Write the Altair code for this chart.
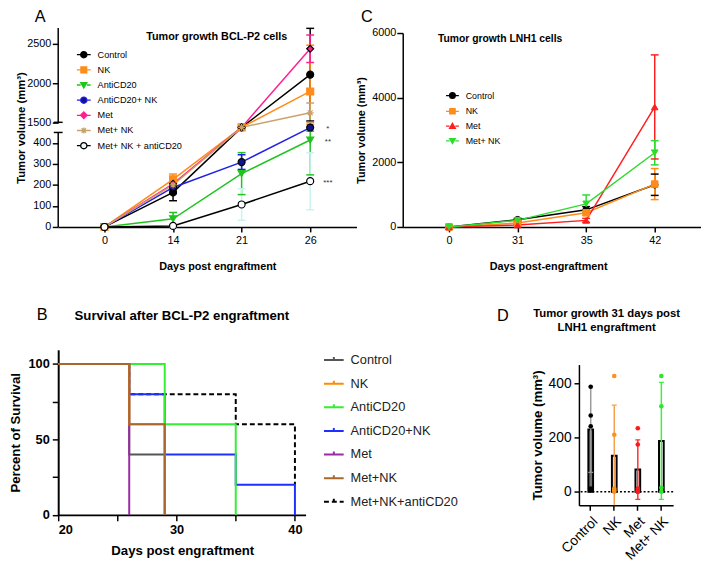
import altair as alt
import pandas as pd

FONT = "Liberation Sans"

# ---------------- Panel A : Tumor growth BCL-P2 cells ----------------
A_days = ["0", "14", "21", "26"]
A_series = ["Control", "NK", "AntiCD20", "AntiCD20+ NK", "Met", "Met+ NK", "Met+ NK + antiCD20"]
A_control = [0, 165, 975, 2107]
A_nk = [0, 227, 975, 1893]
A_anti = [0, 39, 254, 414]
A_anti_nk = [0, 188, 309, 960]
A_met = [0, 205, 975, 2437]
A_met_nk = [0, 200, 975, 1621]
A_met_nk_anti = [0, 5, 107, 218]
A_control_err = [0, 40, 0, 590]
A_nk_err = [0, 25, 0, 590]
A_anti_err = [0, 30, 100, 166]
A_anti_nk_err = [0, 30, 35, 0]
A_met_err = [0, 30, 0, 175]
A_met_nk_err = [0, 25, 0, 125]
A_met_nk_anti_err = [0, 5, 75, 136]
A_y_ticks = [0, 100, 200, 300, 400, 1500, 2000, 2500]
A_break_lo, A_break_hi, A_top = 450, 1500, 2700
A_star_labels = ["*", "**", "***"]
A_star_series = ["AntiCD20+ NK", "AntiCD20", "Met+ NK + antiCD20"]

# ---------------- Panel C : Tumor growth LNH1 cells ----------------
C_days = ["0", "31", "35", "42"]
C_series = ["Control", "NK", "Met", "Met+ NK"]
C_control = [0, 224, 530, 1306]
C_nk = [0, 122, 439, 1327]
C_met = [0, 61, 204, 3714]
C_met_nk = [0, 204, 714, 2296]
C_control_err = [0, 40, 100, 330]
C_nk_err = [0, 30, 80, 480]
C_met_err = [0, 20, 60, 1610]
C_met_nk_err = [0, 40, 276, 375]
C_y_ticks = [0, 2000, 4000, 6000]

# ---------------- Panel B : survival ----------------
B_series = ["Control", "NK", "AntiCD20", "AntiCD20+NK", "Met", "Met+NK", "Met+NK+antiCD20"]
B_control_t, B_control_s = [20, 26, 29], [100, 40, 0]
B_nk_t, B_nk_s = [20, 26, 29], [100, 60, 0]
B_anti_t, B_anti_s = [20, 29, 35], [100, 60, 0]
B_anti_nk_t, B_anti_nk_s = [20, 26, 29, 35, 40], [100, 80, 40, 20, 0]
B_met_t, B_met_s = [20, 26], [100, 0]
B_met_nk_t, B_met_nk_s = [20, 26, 29], [100, 60, 0]
B_met_nk_anti_t, B_met_nk_anti_s = [20, 26, 35, 40], [100, 80, 60, 20]
B_draw_order = ["Met+NK+antiCD20", "AntiCD20+NK", "AntiCD20", "Control", "Met", "NK", "Met+NK"]
B_x_ticks = [20, 25, 30, 35, 40]
B_y_ticks = [0, 25, 50, 75, 100]

# ---------------- Panel D : 31 days LNH1 ----------------
D_groups = ["Control", "NK", "Met", "Met+ NK"]
D_mean = [230, 133, 82, 188]
D_sd = [158, 187, 110, 216]
D_control_pts = [388, 282, 242, 12, 6]
D_nk_pts = [428, 211, 12, 6, 0]
D_met_pts = [235, 175, 12, 6, 0, 0]
D_met_nk_pts = [428, 316, 15, 0]
D_y_ticks = [0, 100, 200, 300, 400]

# ---------------- styles ----------------
A_line_colors = ["#000000", "#ff8c1a", "#1fc41f", "#1f1fe6", "#ff1f8f", "#c9a26b", "#000000"]
A_fill = ["#000000", "#ff8c1a", "#1fc41f", "#12128c", "#ff1f8f", "#c9a26b", "#ffffff"]
A_stroke = ["#000000", "#ff8c1a", "#1fc41f", "#000000", "#000000", "#c9a26b", "#000000"]
A_leg_fill = ["#000000", "#ff8c1a", "#1fc41f", "#12128c", "#ff1f8f", "#c9a26b", "#eefafa"]
A_err_colors = ["#000000", "#ff8c1a", "#1fc41f", "#1f1fe6", "#ff1f8f", "#c9a26b", "#c9f2f2"]
AST = "M-1,0L1,0M0,-1L0,1M-0.7,-0.7L0.7,0.7M-0.7,0.7L0.7,-0.7"
A_shapes = ["circle", "square", "triangle-down", "circle", "diamond", AST, "circle"]
LEG_CIRCLE = "M-1,0L-0.45,0M0.45,0L1,0M-0.45,0A0.45,0.45,0,1,0,0.45,0A0.45,0.45,0,1,0,-0.45,0Z"
LEG_SQUARE = "M-1,0L-0.42,0M0.42,0L1,0M-0.42,-0.42L0.42,-0.42L0.42,0.42L-0.42,0.42Z"
LEG_TRI_DOWN = "M-1,0L-0.45,0M0.45,0L1,0M-0.45,-0.35L0.45,-0.35L0,0.42Z"
LEG_TRI_UP = "M-1,0L-0.45,0M0.45,0L1,0M-0.45,0.35L0.45,0.35L0,-0.42Z"
LEG_DIAMOND = "M-1,0L-0.48,0M0.48,0L1,0M0,-0.48L0.48,0L0,0.48L-0.48,0Z"
LEG_AST = "M-1,0L1,0M0,-0.45L0,0.45M-0.32,-0.32L0.32,0.32M-0.32,0.32L0.32,-0.32"
A_leg_paths = [LEG_CIRCLE, LEG_SQUARE, LEG_TRI_DOWN, LEG_CIRCLE, LEG_DIAMOND, LEG_AST, LEG_CIRCLE]

C_colors = ["#000000", "#ff8c1a", "#ff1f1f", "#2edc2e"]
C_shapes = ["circle", "square", "triangle-up", "triangle-down"]
C_leg_paths = [LEG_CIRCLE, LEG_SQUARE, LEG_TRI_UP, LEG_TRI_DOWN]

B_colors = ["#555555", "#ff8c00", "#33ee33", "#1f2fff", "#9b2aa6", "#a8682c", "#000000"]
B_dash = [[1, 0], [1, 0], [1, 0], [1, 0], [1, 0], [1, 0], [5, 3]]
B_SYMBOL = "M-1,0L1,0M0,0L0,-0.3"

D_bar_fill = ["#6e6e6e", "#ffffff", "#ffffff", "#ffffff"]
D_err_colors = ["#9a9a9a", "#f6a04d", "#ff3030", "#3cf03c"]
D_pt_colors = ["#000000", "#f7931e", "#ff1a1a", "#2ee62e"]

RES = dict(color="independent", fill="independent", stroke="independent",
           shape="independent", strokeDash="independent")


def long_df(series, days, means, errs):
    rows = []
    for s, m, e in zip(series, means, errs):
        for d, v, er in zip(days, m, e):
            rows.append({"series": s, "day": d, "mean": v, "err": er, "lo": v - er, "hi": v + er})
    return pd.DataFrame(rows)


def letter(label, dx, dy):
    return alt.Chart(pd.DataFrame({"t": [label]})).mark_text(
        fontSize=16.5, font=FONT, color="black", align="center", baseline="middle"
    ).encode(text="t:N", x=alt.value(dx), y=alt.value(dy))


def spacer(w, h):
    return alt.Chart(pd.DataFrame({"v": [0]})).mark_point(opacity=0).encode(
        x=alt.value(0), y=alt.value(0)).properties(width=w, height=h)


# ================= Panel A =================
A_W, A_H = 303, 202
dfA = long_df(A_series, A_days,
              [A_control, A_nk, A_anti, A_anti_nk, A_met, A_met_nk, A_met_nk_anti],
              [A_control_err, A_nk_err, A_anti_err, A_anti_nk_err, A_met_err, A_met_nk_err, A_met_nk_anti_err])
dfA_err = dfA[(dfA["err"] > 0)]
xA = alt.X("day:O", sort=A_days,
           scale=alt.Scale(type="point", domain=A_days, padding=0.675),
           axis=alt.Axis(title="Days post engraftment", titleX=161.7, titleY=40, titleBaseline="middle",
                         titleFontSize=11, titleFontWeight="bold", labelFontSize=11, labelAngle=0,
                         tickSize=5, labelPadding=3, domainWidth=1.5, tickWidth=1.5))
yA_scale = alt.Scale(domain=[0, A_break_lo, A_break_hi, A_top], range=[A_H, 106, 95.7, 0],
                     nice=False, zero=False)


def yA(field):
    return alt.Y(field + ":Q", scale=yA_scale,
                 axis=alt.Axis(title="Tumor volume (mm³)", values=A_y_ticks, domain=False, format="d",
                               tickSize=6, tickWidth=1.5, labelPadding=1.5, labelFontSize=11,
                               titleFontSize=11.5, titleFontWeight="bold", titleX=-37,
                               titleBaseline="middle"))


seg = pd.DataFrame({"lo": [0, A_break_hi], "hi": [A_break_lo, A_top]})
A_axis_line = alt.Chart(seg).mark_rule(color="black", strokeWidth=1.5).encode(
    x=alt.value(0), y=yA("lo"), y2="hi:Q")
A_caps = alt.Chart(pd.DataFrame({"v": [A_break_lo, A_break_hi]})).mark_rule(
    color="black", strokeWidth=1.5).encode(x=alt.value(-4.5), x2=alt.value(4.5), y=yA("v"))
A_errbar = alt.Chart(dfA_err).mark_rule(strokeWidth=1.5).encode(
    x=xA, y=yA("lo"), y2="hi:Q",
    color=alt.Color("series:N", scale=alt.Scale(domain=A_series, range=A_err_colors), legend=None))
A_errcap = alt.Chart(dfA_err).transform_fold(["lo", "hi"], as_=["k", "v"]).mark_tick(
    size=8, thickness=1.5, opacity=1).encode(
    x=xA, y=yA("v"),
    color=alt.Color("series:N", scale=alt.Scale(domain=A_series, range=A_err_colors), legend=None))
A_lines = alt.Chart(dfA).mark_line(strokeWidth=1.5).encode(
    x=xA, y=yA("mean"),
    color=alt.Color("series:N", scale=alt.Scale(domain=A_series, range=A_line_colors), legend=None))
A_points = alt.Chart(dfA).mark_point(filled=True, opacity=1, size=50, strokeWidth=1.2).encode(
    x=xA, y=yA("mean"),
    shape=alt.Shape("series:N", scale=alt.Scale(domain=A_series, range=A_shapes), legend=None),
    fill=alt.Fill("series:N", scale=alt.Scale(domain=A_series, range=A_fill), legend=None),
    stroke=alt.Stroke("series:N", scale=alt.Scale(domain=A_series, range=A_stroke), legend=None))
dfStars = dfA[(dfA["day"] == A_days[-1]) & (dfA["series"].isin(A_star_series))].copy()
dfStars["star"] = dfStars["series"].map(dict(zip(A_star_series, A_star_labels)))
A_stars = alt.Chart(dfStars).mark_text(fontSize=8, font=FONT, color="#333333", dx=18, dy=2,
                                       align="center", baseline="middle").encode(
    x=xA, y=yA("mean"), text="star:N")
legA = alt.Legend(title=None, orient="none", legendX=18, legendY=19, symbolSize=196,
                  symbolStrokeWidth=1.3, labelFontSize=9.3, labelFont=FONT, labelColor="black",
                  rowPadding=1.4, labelOffset=6, padding=0)
A_legend = alt.Chart(dfA).transform_filter("false").mark_point(
    filled=True, opacity=1, strokeWidth=1.3).encode(
    x=xA, y=yA("mean"),
    shape=alt.Shape("series:N", scale=alt.Scale(domain=A_series, range=A_leg_paths), legend=legA),
    fill=alt.Fill("series:N", scale=alt.Scale(domain=A_series, range=A_leg_fill), legend=legA),
    stroke=alt.Stroke("series:N", scale=alt.Scale(domain=A_series, range=A_line_colors), legend=legA))

chartA = alt.layer(A_axis_line, A_caps, A_errbar, A_errcap, A_lines, A_points, A_stars, A_legend,
                   letter("A", -18.3, -11.7)).resolve_scale(**RES).properties(
    width=A_W, height=A_H,
    title=alt.TitleParams("Tumor growth BCL-P2 cells", fontSize=11, fontWeight="bold", font=FONT,
                          anchor="middle", frame="group", dx=9.5, offset=-34, color="black"))

# ================= Panel C =================
C_W, C_H = 303, 197
dfC = long_df(C_series, C_days, [C_control, C_nk, C_met, C_met_nk],
              [C_control_err, C_nk_err, C_met_err, C_met_nk_err])
dfC_err = dfC[dfC["err"] > 0]
xC = alt.X("day:O", sort=C_days,
           scale=alt.Scale(type="point", domain=C_days, padding=0.675),
           axis=alt.Axis(title="Days post-engraftment", titleX=147.7, titleY=40.7, titleBaseline="middle",
                         titleFontSize=11, titleFontWeight="bold", labelFontSize=11, labelAngle=0,
                         tickSize=5, labelPadding=3, domainWidth=1.5, tickWidth=1.5))
yC_scale = alt.Scale(domain=[0, 6000], nice=False, zero=False)


def yC(field):
    return alt.Y(field + ":Q", scale=yC_scale,
                 axis=alt.Axis(title="Tumor volume (mm³)", values=C_y_ticks, tickSize=6, tickWidth=1.5,
                               domainWidth=1.5, labelPadding=1, labelFontSize=11, format="d",
                               titleFontSize=11, titleFontWeight="bold", titleX=-42,
                               titleBaseline="middle"))


colC = alt.Color("series:N", scale=alt.Scale(domain=C_series, range=C_colors), legend=None)
C_errbar = alt.Chart(dfC_err).mark_rule(strokeWidth=1.5).encode(x=xC, y=yC("lo"), y2="hi:Q", color=colC)
C_errcap = alt.Chart(dfC_err).transform_fold(["lo", "hi"], as_=["k", "v"]).mark_tick(
    size=8, thickness=1.5, opacity=1).encode(x=xC, y=yC("v"), color=colC)
C_lines = alt.Chart(dfC).mark_line(strokeWidth=1.5).encode(x=xC, y=yC("mean"), color=colC)
C_points = alt.Chart(dfC).mark_point(filled=True, opacity=1, size=45, strokeWidth=1).encode(
    x=xC, y=yC("mean"),
    shape=alt.Shape("series:N", scale=alt.Scale(domain=C_series, range=C_shapes), legend=None),
    fill=alt.Fill("series:N", scale=alt.Scale(domain=C_series, range=C_colors), legend=None),
    stroke=alt.Stroke("series:N", scale=alt.Scale(domain=C_series, range=C_colors), legend=None))
legC = alt.Legend(title=None, orient="none", legendX=43, legendY=56, symbolSize=169,
                  symbolStrokeWidth=1.3, labelFontSize=9, labelFont=FONT, labelColor="black",
                  rowPadding=2, labelOffset=6, padding=0)
C_legend = alt.Chart(dfC).transform_filter("false").mark_point(
    filled=True, opacity=1, strokeWidth=1.3).encode(
    x=xC, y=yC("mean"),
    shape=alt.Shape("series:N", scale=alt.Scale(domain=C_series, range=C_leg_paths), legend=legC),
    fill=alt.Fill("series:N", scale=alt.Scale(domain=C_series, range=C_colors), legend=legC),
    stroke=alt.Stroke("series:N", scale=alt.Scale(domain=C_series, range=C_colors), legend=legC))
chartC = alt.layer(C_errbar, C_errcap, C_lines, C_points, C_legend,
                   letter("C", -36.5, -16.7)).resolve_scale(**RES).properties(
    width=C_W, height=C_H,
    title=alt.TitleParams("Tumor growth LNH1 cells", fontSize=10.5, fontWeight="bold", font=FONT,
                          anchor="middle", frame="group", dx=-52.6, offset=-36.3, color="black"))

# ================= Panel B =================
B_W, B_H = 251.3, 167.7
rowsB = []
B_data = {
    "Control": (B_control_t, B_control_s), "NK": (B_nk_t, B_nk_s),
    "AntiCD20": (B_anti_t, B_anti_s), "AntiCD20+NK": (B_anti_nk_t, B_anti_nk_s),
    "Met": (B_met_t, B_met_s), "Met+NK": (B_met_nk_t, B_met_nk_s),
    "Met+NK+antiCD20": (B_met_nk_anti_t, B_met_nk_anti_s),
}
for s in B_draw_order:
    for t, v in zip(*B_data[s]):
        rowsB.append({"series": s, "t": t, "s": v})
dfB = pd.DataFrame(rowsB)
legB = alt.Legend(title=None, orient="none", legendX=269, legendY=-0.6, symbolType=B_SYMBOL,
                  symbolSize=400, symbolStrokeWidth=2, labelFontSize=13, labelFont=FONT,
                  labelColor="#222222", rowPadding=6.0, labelOffset=6, padding=0)
B_lines = alt.Chart(dfB).mark_line(interpolate="step-after", strokeWidth=2).encode(
    x=alt.X("t:Q", scale=alt.Scale(domain=[20, 40.9], nice=False, zero=False),
            axis=alt.Axis(title="Days post engraftment", values=B_x_ticks,
                          labelExpr="datum.value % 10 === 0 ? datum.label : ''",
                          titleX=126, titleY=36, titleBaseline="middle", titleFontSize=13.4,
                          titleFontWeight="bold", labelFontSize=13, labelFontWeight="bold",
                          tickSize=6, tickWidth=1.5, domainWidth=2, labelPadding=3)),
    y=alt.Y("s:Q", scale=alt.Scale(domain=[0, 109.4], nice=False, zero=False),
            axis=alt.Axis(title="Percent of Survival", values=B_y_ticks,
                          labelExpr="datum.value % 50 === 0 ? datum.label : ''",
                          titleX=-43.7, titleBaseline="middle", titleFontSize=13.4, titleFontWeight="bold",
                          labelFontSize=13, labelFontWeight="bold", tickSize=6, tickWidth=1.5,
                          domainWidth=2, labelPadding=3)),
    color=alt.Color("series:N", scale=alt.Scale(domain=B_series, range=B_colors), legend=legB),
    strokeDash=alt.StrokeDash("series:N", scale=alt.Scale(domain=B_series, range=B_dash), legend=legB),
)
chartB = alt.layer(B_lines, letter("B", -16.2, -35.6)).resolve_scale(**RES).properties(
    width=B_W, height=B_H,
    title=alt.TitleParams("Survival after BCL-P2 engraftment", fontSize=13.4, fontWeight="bold", font=FONT,
                          anchor="middle", frame="group", offset=-15.3, color="black"))

# ================= Panel D =================
D_W, D_H = 95.7, 143
dfD = pd.DataFrame({"group": D_groups, "mean": D_mean, "sd": D_sd})
dfD["lo"] = dfD["mean"] - dfD["sd"]
dfD["hi"] = dfD["mean"] + dfD["sd"]
rowsD = []
for g, pts in zip(D_groups, [D_control_pts, D_nk_pts, D_met_pts, D_met_nk_pts]):
    for p in pts:
        rowsD.append({"group": g, "v": p})
dfDp = pd.DataFrame(rowsD)
xD = alt.X("group:N", sort=D_groups,
           scale=alt.Scale(domain=D_groups, paddingInner=0.8, paddingOuter=0.4),
           axis=alt.Axis(title=None, labelAngle=-45, labelAlign="right", labelBaseline="top",
                         labelFontSize=14, tickSize=5, tickWidth=1.5, domainWidth=1.5, labelPadding=4))
yD_scale = alt.Scale(domain=[-50, 470], nice=False, zero=False)


def yD(field):
    return alt.Y(field + ":Q", scale=yD_scale,
                 axis=alt.Axis(title="Tumor volume (mm³)", values=D_y_ticks,
                               labelExpr="datum.value % 200 === 0 ? datum.label : ''",
                               tickSize=5, tickWidth=1.5, domainWidth=1.5, labelPadding=3,
                               labelFontSize=14, titleFontSize=13.4, titleFontWeight="bold",
                               titleX=-42.3, titleBaseline="middle"))


D_bars = alt.Chart(dfD).mark_bar(stroke="black", strokeWidth=2).encode(
    x=xD, y=yD("mean"), y2=alt.datum(0),
    fill=alt.Fill("group:N", scale=alt.Scale(domain=D_groups, range=D_bar_fill), legend=None))
colDe = alt.Color("group:N", scale=alt.Scale(domain=D_groups, range=D_err_colors), legend=None)
D_err = alt.Chart(dfD).mark_rule(strokeWidth=1.5, clip=True).encode(x=xD, y=yD("lo"), y2="hi:Q", color=colDe)
D_errcap = alt.Chart(dfD).transform_fold(["lo", "hi"], as_=["k", "v"]).mark_tick(
    size=5, thickness=1.2, opacity=1, clip=True).encode(x=xD, y=yD("v"), color=colDe)
D_zero = alt.Chart(pd.DataFrame({"z": [0]})).mark_rule(
    color="black", strokeWidth=1.5, strokeDash=[2, 2]).encode(y=alt.datum(0))
D_pts = alt.Chart(dfDp).mark_circle(size=22, opacity=1).encode(
    x=xD, y=yD("v"),
    color=alt.Color("group:N", scale=alt.Scale(domain=D_groups, range=D_pt_colors), legend=None))
chartD = alt.layer(D_bars, D_err, D_errcap, D_zero, D_pts, letter("D", -77.3, -49.7)).resolve_scale(
    **RES).properties(
    width=D_W, height=D_H,
    title=alt.TitleParams(["Tumor growth 31 days post", "LNH1 engraftment"], fontSize=11.5,
                          fontWeight="bold", font=FONT, anchor="middle", frame="group", dx=-19.7,
                          offset=-26, lineHeight=14.4, color="black"))

# ================= Layout =================
top = alt.hconcat(
    chartA,
    alt.vconcat(spacer(C_W, 5), chartC, spacing=0, bounds="flush").resolve_scale(**RES),
    spacing=47, bounds="flush").resolve_scale(**RES)
bottom = alt.hconcat(
    chartB,
    alt.vconcat(spacer(D_W, 14.4), chartD, spacing=0, bounds="flush").resolve_scale(**RES),
    spacing=277, bounds="flush").resolve_scale(**RES)
chart = alt.vconcat(top, bottom, spacing=34.8).resolve_scale(**RES).properties(
    padding={"left": 0, "top": -4, "right": 0, "bottom": 0}
).configure_view(stroke=None).configure_axis(
    grid=False, domainColor="black", tickColor="black", labelColor="black", titleColor="black",
    labelFont=FONT, titleFont=FONT
).configure_legend(labelFont=FONT).configure_title(font=FONT, color="black").configure_text(font=FONT)

chart.save("out.html", embed_options={"renderer": "svg", "actions": False})
